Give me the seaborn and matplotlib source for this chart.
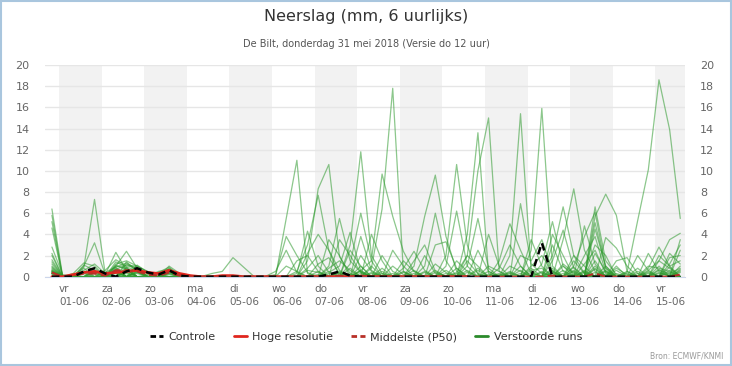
import pandas as pd
import numpy as np
import matplotlib.pyplot as plt
from matplotlib.lines import Line2D
import seaborn as sns

# 6-hourly steps (local time), ECMWF run of 31 May 12 UTC
steps = pd.date_range('2018-05-31 20:00', periods=60, freq='6h')
days = pd.date_range('2018-06-01', periods=15, freq='D')
day_labels = ['vr\n01-06', 'za\n02-06', 'zo\n03-06', 'ma\n04-06', 'di\n05-06',
              'wo\n06-06', 'do\n07-06', 'vr\n08-06', 'za\n09-06', 'zo\n10-06',
              'ma\n11-06', 'di\n12-06', 'wo\n13-06', 'do\n14-06', 'vr\n15-06']

# precipitation per step index (mm / 6h), steps not listed are 0
controle = {3: 0.5, 4: 0.8, 5: 0.3, 7: 0.5, 8: 0.8, 9: 0.4, 10: 0.2, 11: 0.6, 12: 0.1,
            26: 0.2, 27: 0.5, 28: 0.1, 46: 3.2}
hoge_res = {2: 0.2, 3: 0.4, 4: 0.5, 5: 0.3, 6: 0.4, 7: 0.5, 8: 0.6, 9: 0.4, 10: 0.3,
            11: 0.6, 12: 0.3, 13: 0.1, 16: 0.1, 17: 0.1}
middelste = {0: 0.4, 2: 0.1, 3: 0.3, 4: 0.3, 5: 0.1, 6: 0.6, 7: 0.6, 8: 0.5, 9: 0.2,
             10: 0.1, 11: 0.4, 12: 0.1, 27: 0.1, 29: 0.1, 47: 0.1, 51: 0.3, 59: 0.2}

g01 = {0: 6.4, 1: 0.1, 6: 1.4, 7: 0.9, 11: 0.8, 12: 0.2, 22: 5.5, 23: 11.0, 24: 0.3, 33: 0.8, 34: 2.4, 35: 0.6, 48: 1.2, 49: 0.4, 51: 2.2, 52: 0.5, 57: 1.5, 58: 0.8}
g02 = {0: 5.8, 3: 0.9, 4: 7.3, 5: 0.3, 7: 1.2, 8: 0.6, 24: 1.5, 25: 8.3, 26: 10.6, 27: 1.9, 28: 0.3, 44: 6.9, 45: 1.2, 46: 0.3, 54: 0.4, 55: 5.3, 56: 10.1, 57: 18.6, 58: 13.9, 59: 5.5}
g03 = {0: 5.2, 3: 1.0, 4: 3.2, 5: 0.2, 6: 2.3, 7: 0.6, 10: 0.4, 11: 0.9, 29: 0.5, 38: 0.4, 39: 2.0, 40: 10.0, 41: 15.0, 42: 0.5, 51: 6.6, 52: 1.5, 53: 0.2}
g04 = {0: 4.6, 2: 0.3, 3: 1.3, 4: 1.0, 6: 1.0, 7: 2.4, 8: 0.8, 9: 0.3, 28: 3.0, 29: 11.8, 30: 2.0, 31: 0.3, 43: 2.0, 44: 15.4, 45: 0.5, 58: 1.2, 59: 3.0}
g05 = {0: 2.8, 1: 0.2, 5: 0.6, 6: 1.6, 7: 1.0, 8: 0.9, 11: 0.6, 30: 0.8, 31: 6.4, 32: 17.8, 33: 0.5, 45: 2.5, 46: 15.9, 47: 1.0, 56: 0.8, 57: 2.8, 58: 1.0}
g06 = {0: 2.2, 3: 1.1, 4: 0.6, 7: 1.4, 8: 0.5, 11: 1.0, 12: 0.3, 29: 0.6, 30: 1.5, 31: 9.7, 32: 5.7, 33: 2.4, 34: 0.5, 37: 2.0, 38: 10.6, 39: 3.0, 40: 0.2, 49: 1.0, 50: 3.8, 51: 6.1, 52: 0.8}
g07 = {0: 1.6, 4: 0.8, 6: 1.2, 7: 1.5, 8: 1.0, 9: 0.5, 15: 0.3, 16: 0.5, 17: 1.8, 18: 0.9, 34: 1.0, 35: 5.7, 36: 9.6, 37: 3.8, 38: 0.5, 47: 2.0, 48: 6.6, 49: 2.0, 50: 0.3}
g08 = {0: 1.2, 5: 0.4, 6: 0.9, 7: 1.3, 8: 0.7, 10: 0.5, 11: 0.7, 21: 0.2, 22: 3.8, 23: 2.0, 24: 0.4, 39: 4.0, 40: 13.6, 41: 0.3, 48: 3.5, 49: 8.3, 50: 2.5, 51: 0.5}
g09 = {0: 0.8, 6: 0.7, 7: 1.1, 8: 1.0, 9: 0.4, 23: 0.5, 24: 3.0, 25: 7.7, 26: 2.5, 27: 0.6, 42: 1.5, 43: 5.0, 44: 2.5, 45: 0.3, 51: 5.7, 52: 7.8, 53: 5.8, 54: 0.5}
g10 = {0: 0.6, 3: 0.6, 4: 1.2, 5: 0.3, 8: 0.6, 11: 0.5, 26: 1.0, 27: 5.5, 28: 1.5, 29: 0.4, 35: 1.0, 36: 6.0, 37: 1.5, 46: 1.2, 47: 5.2, 48: 1.0, 56: 0.6, 57: 1.5, 58: 3.5, 59: 4.1}
g11 = {0: 0.5, 6: 1.0, 7: 0.8, 11: 0.4, 23: 0.3, 24: 4.3, 25: 1.0, 28: 1.2, 29: 6.0, 30: 1.5, 37: 1.0, 38: 6.2, 39: 1.0, 47: 1.5, 48: 4.4, 49: 0.8, 51: 5.1, 52: 0.8}
g12 = {0: 0.4, 7: 0.5, 8: 0.7, 9: 0.3, 11: 0.3, 24: 0.8, 25: 2.0, 26: 0.4, 27: 1.0, 28: 4.2, 29: 0.5, 39: 1.0, 40: 5.5, 41: 0.8, 50: 2.0, 51: 3.8, 52: 0.4, 59: 2.5}
g13 = {3: 0.8, 6: 0.5, 8: 0.4, 21: 0.5, 22: 2.5, 23: 0.4, 26: 3.5, 27: 2.0, 29: 3.8, 30: 0.6, 42: 0.8, 43: 3.0, 44: 1.0, 52: 3.7, 53: 2.7, 54: 1.0}
g14 = {0: 0.3, 4: 0.5, 6: 0.8, 8: 1.1, 9: 0.4, 24: 2.2, 25: 4.0, 26: 2.5, 31: 2.0, 32: 0.5, 36: 3.0, 37: 3.3, 38: 0.8, 45: 3.5, 46: 1.0, 55: 2.0, 56: 0.6, 58: 2.2, 59: 1.2}
g15 = {0: 0.5, 7: 0.7, 11: 0.6, 27: 3.5, 28: 2.0, 29: 0.4, 33: 1.5, 34: 0.5, 39: 2.0, 40: 1.0, 47: 4.0, 48: 2.0, 50: 4.8, 51: 1.2, 57: 2.0, 58: 1.0, 59: 1.5}
g16 = {0: 0.3, 5: 0.3, 8: 0.5, 23: 1.5, 24: 2.0, 25: 0.5, 30: 4.0, 31: 1.5, 35: 2.0, 36: 0.3, 41: 4.0, 42: 1.0, 49: 2.0, 50: 1.0, 53: 1.5, 54: 1.8, 55: 0.3, 59: 3.5}
g17 = {2: 0.2, 6: 0.6, 10: 0.3, 25: 1.2, 26: 1.8, 27: 0.3, 32: 2.5, 33: 1.0, 38: 1.5, 39: 0.5, 44: 2.0, 45: 1.5, 46: 3.5, 47: 0.5, 51: 4.5, 52: 1.0, 56: 2.2, 57: 0.5}
g18 = {0: 0.4, 7: 0.3, 11: 0.5, 22: 1.0, 23: 0.5, 28: 2.5, 29: 1.0, 34: 1.5, 35: 3.0, 36: 0.5, 43: 1.0, 44: 0.5, 49: 1.5, 50: 0.3, 51: 3.0, 52: 2.0, 58: 1.8, 59: 2.0}
g19 = {6: 0.4, 8: 0.3, 26: 0.8, 27: 1.5, 28: 0.6, 36: 1.2, 37: 0.4, 40: 2.5, 41: 0.5, 47: 3.0, 48: 0.5, 53: 0.8, 54: 0.2, 56: 1.0, 57: 0.8, 58: 0.5}
g20 = {0: 0.2, 4: 0.4, 7: 0.4, 29: 2.0, 30: 0.5, 32: 1.0, 33: 0.2, 45: 1.0, 46: 2.0, 47: 0.5, 50: 1.2, 51: 2.5, 52: 0.3, 57: 0.6, 58: 0.3, 59: 0.8}
g21 = {0: 0.5, 6: 0.3, 11: 0.3, 24: 0.6, 25: 0.4, 31: 0.8, 37: 0.6, 39: 1.5, 40: 0.3, 43: 0.4, 48: 1.0, 49: 0.3, 51: 1.0, 55: 0.8, 59: 0.6}
g22 = {3: 0.4, 7: 0.6, 27: 0.5, 30: 1.0, 33: 0.4, 41: 1.0, 42: 0.5, 44: 1.0, 50: 0.6, 53: 1.0, 57: 1.0}
g23 = {0: 0.3, 8: 0.5, 28: 0.8, 35: 0.5, 38: 0.8, 45: 0.6, 46: 0.8, 49: 0.5, 52: 1.0, 54: 0.5, 58: 0.6}
g24 = {4: 0.3, 6: 0.5, 25: 0.5, 29: 1.0, 34: 0.3, 40: 0.8, 47: 0.8, 51: 0.8, 56: 0.4, 59: 1.0}
g25 = {0: 1.0, 6: 0.6, 9: 0.2, 26: 0.3, 31: 0.5, 36: 0.6, 42: 0.3, 46: 0.5, 50: 0.4, 53: 0.6, 57: 0.4}
g26 = {0: 0.7, 7: 0.8, 12: 0.1, 27: 0.3, 32: 0.3, 39: 0.4, 44: 0.6, 48: 0.3, 52: 0.5, 55: 0.3, 59: 0.5}
g27 = {0: 0.4, 3: 0.3, 8: 0.4, 29: 0.3, 34: 0.6, 41: 0.5, 45: 0.4, 49: 0.6, 54: 0.3, 58: 0.4}
g28 = {0: 2.0, 6: 1.1, 7: 0.7, 11: 0.4, 30: 0.4, 37: 0.3, 43: 0.5, 47: 0.4, 51: 1.5, 56: 0.5}
g29 = {0: 0.9, 7: 0.9, 8: 0.6, 27: 0.4, 28: 0.2, 33: 0.5, 40: 0.6, 42: 0.2, 46: 0.4, 49: 0.2, 51: 0.7, 53: 0.3, 57: 0.7, 59: 0.4}
g30 = {0: 0.6, 6: 0.7, 11: 0.7, 26: 0.5, 31: 0.3, 35: 0.4, 38: 0.3, 44: 0.3, 47: 0.6, 50: 0.5, 52: 0.2, 56: 0.3, 58: 0.9}
g31 = {0: 1.4, 4: 0.6, 7: 0.5, 8: 0.8, 29: 0.6, 36: 0.4, 41: 0.2, 45: 0.8, 48: 0.6, 51: 0.4, 55: 0.5, 59: 0.7}
g32 = {0: 0.3, 6: 0.9, 11: 0.2, 25: 0.2, 30: 0.3, 39: 0.6, 43: 0.3, 47: 0.3, 49: 0.9, 52: 0.6, 57: 0.3, 58: 0.2}
members = [g01, g02, g03, g04, g05, g06, g07, g08, g09, g10, g11, g12, g13, g14, g15, g16,
           g17, g18, g19, g20, g21, g22, g23, g24, g25, g26, g27, g28, g29, g30, g31, g32]


def to_series(d, n=60):
    return [d.get(i, 0.0) for i in range(n)]


rows = []
for nr, m in enumerate(members):
    for t, v in zip(steps, to_series(m)):
        rows.append((nr, t, v))
ens = pd.DataFrame(rows, columns=['member', 'tijd', 'mm'])

sns.set_style('white')
plt.rcParams['font.family'] = ['DejaVu Sans']

fig = plt.figure(figsize=(7.32, 3.66), dpi=100)
ax = fig.add_axes([45 / 732, 1 - 276.7 / 366, 640 / 732, 211.7 / 366])

# grey band on every other day
for k, d in enumerate(days):
    if k % 2 == 0:
        ax.axvspan(d, d + pd.Timedelta(days=1), color='#f2f2f2', lw=0, zorder=0)

green = '#2e9a2e'
sns.lineplot(data=ens, x='tijd', y='mm', units='member', estimator=None,
             color=green, alpha=0.55, lw=0.9, ax=ax, legend=False)
sns.lineplot(x=steps[:40], y=to_series(hoge_res, 40), color='#e0261e', lw=2, ax=ax)
sns.lineplot(x=steps, y=to_series(middelste), color='#b83028', lw=1.5,
             linestyle=(0, (4, 2)), ax=ax)
sns.lineplot(x=steps, y=to_series(controle), color='black', lw=1.8,
             linestyle=(0, (3, 2)), ax=ax)

ax.set_xlim(pd.Timestamp('2018-05-31 16:06'), pd.Timestamp('2018-06-15 16:40'))
ax.set_ylim(0, 20)
ax.set_yticks(range(0, 21, 2))
ax.yaxis.grid(True, color='#e6e6e6', lw=1)
ax.set_axisbelow(True)
ax.set_xticks(days)
ax.set_xticklabels(day_labels, ha='left', linespacing=1.45)
ax.set_xlabel('')
ax.set_ylabel('')
ax.tick_params(axis='y', length=0, labelsize=8, labelcolor='#666666',
               labelleft=True, labelright=True, pad=11)
ax.tick_params(axis='x', length=5, width=1, color='#ccd6eb', labelsize=7.5,
               labelcolor='#666666', pad=0)
for s in ['top', 'left', 'right']:
    ax.spines[s].set_visible(False)
ax.spines['bottom'].set_color('#ccd6eb')

fig.text(0.5, 1 - 17 / 366, 'Neerslag (mm, 6 uurlijks)', ha='center', va='center',
         fontsize=11.5, color='#333333')
fig.text(0.5, 1 - 44 / 366, 'De Bilt, donderdag 31 mei 2018 (Versie do 12 uur)',
         ha='center', va='center', fontsize=7, color='#555555')
fig.text(723 / 732, 1 - 356 / 366, 'Bron: ECMWF/KNMI', ha='right', va='center',
         fontsize=5.5, color='#999999')

handles = [Line2D([], [], color='black', lw=2, linestyle=(0, (2, 1.2))),
           Line2D([], [], color='#e0261e', lw=2),
           Line2D([], [], color='#b83028', lw=2, linestyle=(0, (2, 1.2))),
           Line2D([], [], color='#2a8a2a', lw=2)]
fig.legend(handles, ['Controle', 'Hoge resolutie', 'Middelste (P50)', 'Verstoorde runs'],
           loc='center', bbox_to_anchor=(0.5, 1 - 337 / 366), ncol=4, frameon=False,
           fontsize=8, handlelength=1.2, handletextpad=0.5, columnspacing=1.6,
           labelcolor='#333333')

fig.add_artist(plt.Rectangle((0.001, 0.002), 0.997, 0.996, transform=fig.transFigure,
                             fill=False, ec='#a9c6de', lw=1.5))

fig.savefig('out.png', dpi=100)
